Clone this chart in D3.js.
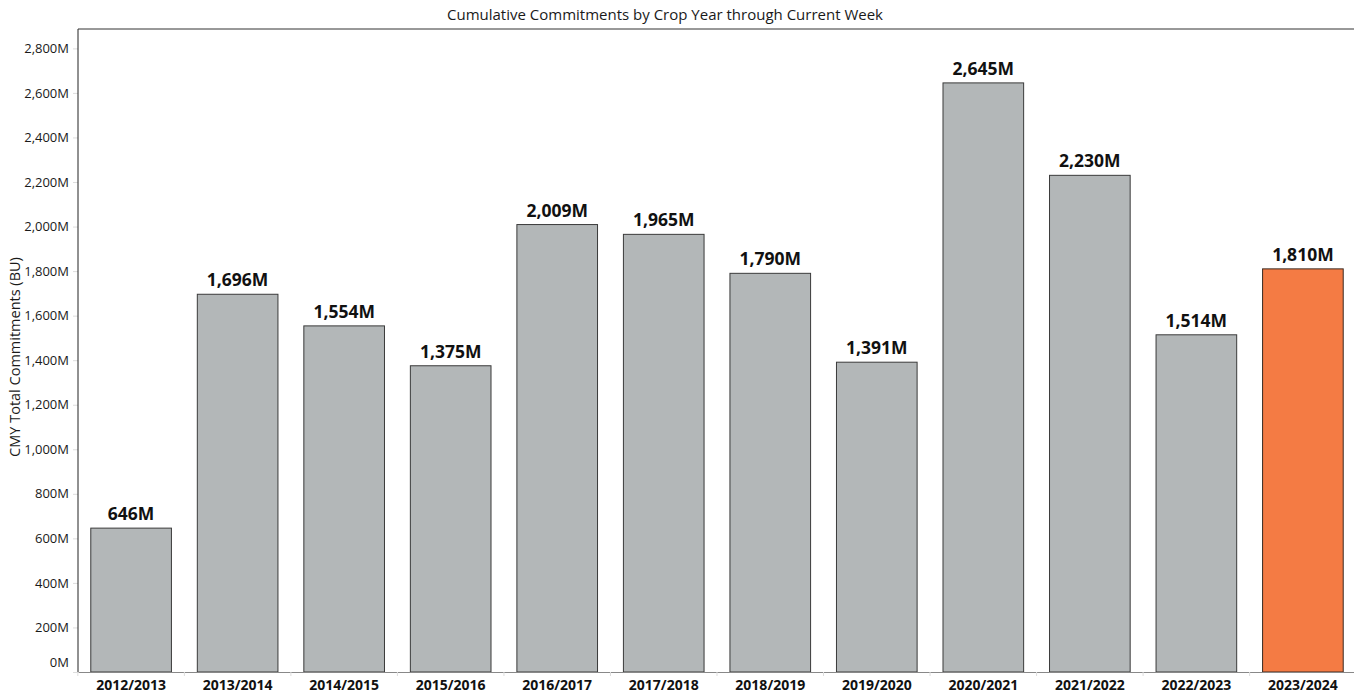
<!DOCTYPE html>
<html>
<head>
<meta charset="utf-8">
<script src="https://cdn.jsdelivr.net/npm/d3@7"></script>
<style>
  body { margin: 0; background: #fff; }
  text { font-family: "Open Sans", "Noto Sans", sans-serif; }
</style>
</head>
<body>
<div class="canvas"></div>
<script>
// data
const cropYears = ['2012/2013', '2013/2014', '2014/2015', '2015/2016', '2016/2017', '2017/2018',
    '2018/2019', '2019/2020', '2020/2021', '2021/2022', '2022/2023', '2023/2024']
const commitments = [646, 1696, 1554, 1375, 2009, 1965, 1790, 1391, 2645, 2230, 1514, 1810]
const yTicks = [0, 200, 400, 600, 800, 1000, 1200, 1400, 1600, 1800, 2000, 2200, 2400, 2600, 2800]
const currentYear = '2023/2024'

const data = cropYears.map((c, i) => ({ year: c, value: commitments[i] }))

const width = 1354
const height = 696
const margin = { top: 29, right: -2, bottom: 24, left: 78 }
const graphWidth = width - margin.left - margin.right
const graphHeight = height - margin.top - margin.bottom

const svg = d3.select('.canvas')
    .append('svg')
    .attr('width', width)
    .attr('height', height)

// title
svg.append('text')
    .attr('x', 665)
    .attr('y', 20)
    .attr('text-anchor', 'middle')
    .attr('font-size', 15)
    .attr('fill', '#1a1a1a')
    .text('Cumulative Commitments by Crop Year through Current Week')

const graph = svg.append('g')
    .attr('transform', `translate(${margin.left}, ${margin.top})`)

// scales
const x = d3.scaleBand()
    .domain(cropYears)
    .range([0, graphWidth])
    .paddingInner(0.243)
    .paddingOuter(0.12)

const y = d3.scaleLinear()
    .domain([0, 2887])
    .range([graphHeight, 0])

// y axis
const yAxis = d3.axisLeft(y)
    .tickValues(yTicks)
    .tickSize(5)
    .tickPadding(4)
    .tickFormat(d => d3.format(',')(d) + 'M')

const yAxisGroup = graph.append('g').call(yAxis)
yAxisGroup.select('.domain').remove()
yAxisGroup.selectAll('.tick line').attr('stroke', '#ddd')
yAxisGroup.selectAll('text')
    .attr('font-size', 13)
    .attr('fill', '#1a1a1a')
// Tableau lifts the bottom label
yAxisGroup.selectAll('.tick').filter(d => d === 0).select('text').attr('dy', '-0.45em')

// y axis title
svg.append('text')
    .attr('transform', 'translate(20, 357) rotate(-90)')
    .attr('text-anchor', 'middle')
    .attr('font-size', 14.5)
    .attr('fill', '#1a1a1a')
    .text('CMY Total Commitments (BU)')

// bars
graph.selectAll('rect.bar')
    .data(data)
    .enter()
    .append('rect')
        .attr('class', 'bar')
        .attr('x', d => x(d.year))
        .attr('y', d => y(d.value))
        .attr('width', x.bandwidth())
        .attr('height', d => graphHeight - y(d.value))
        .attr('fill', d => d.year === currentYear ? '#f47b44' : '#b3b7b8')
        .attr('stroke', d => d.year === currentYear ? '#3a2a22' : '#3a3a3a')
        .attr('stroke-width', 1)

// value labels
graph.selectAll('text.label')
    .data(data)
    .enter()
    .append('text')
        .attr('class', 'label')
        .attr('x', d => x(d.year) + x.bandwidth() / 2)
        .attr('y', d => y(d.value) - 8)
        .attr('text-anchor', 'middle')
        .attr('font-size', 17.5)
        .attr('font-weight', 'bold')
        .attr('fill', '#111')
        .text(d => d3.format(',')(d.value) + 'M')

// x axis
const xAxisGroup = graph.append('g')
    .attr('transform', `translate(0, ${graphHeight})`)
    .call(d3.axisBottom(x).tickSize(0).tickPadding(8))
xAxisGroup.select('.domain').attr('stroke', '#888')
xAxisGroup.selectAll('text')
    .attr('font-size', 14)
    .attr('font-weight', 'bold')
    .attr('fill', '#111')

// small separators between categories
const step = x.step()
graph.selectAll('line.sep')
    .data(cropYears)
    .enter()
    .append('line')
        .attr('class', 'sep')
        .attr('x1', d => x(d) - step * x.paddingInner() / 2)
        .attr('x2', d => x(d) - step * x.paddingInner() / 2)
        .attr('y1', graphHeight)
        .attr('y2', graphHeight + 4)
        .attr('stroke', '#ddd')

// frame: left and top
graph.append('line')
    .attr('x1', 0).attr('x2', 0)
    .attr('y1', 0).attr('y2', graphHeight)
    .attr('stroke', '#222')
graph.append('line')
    .attr('x1', 0).attr('x2', graphWidth)
    .attr('y1', 0).attr('y2', 0)
    .attr('stroke', '#333')
</script>
</body>
</html>
